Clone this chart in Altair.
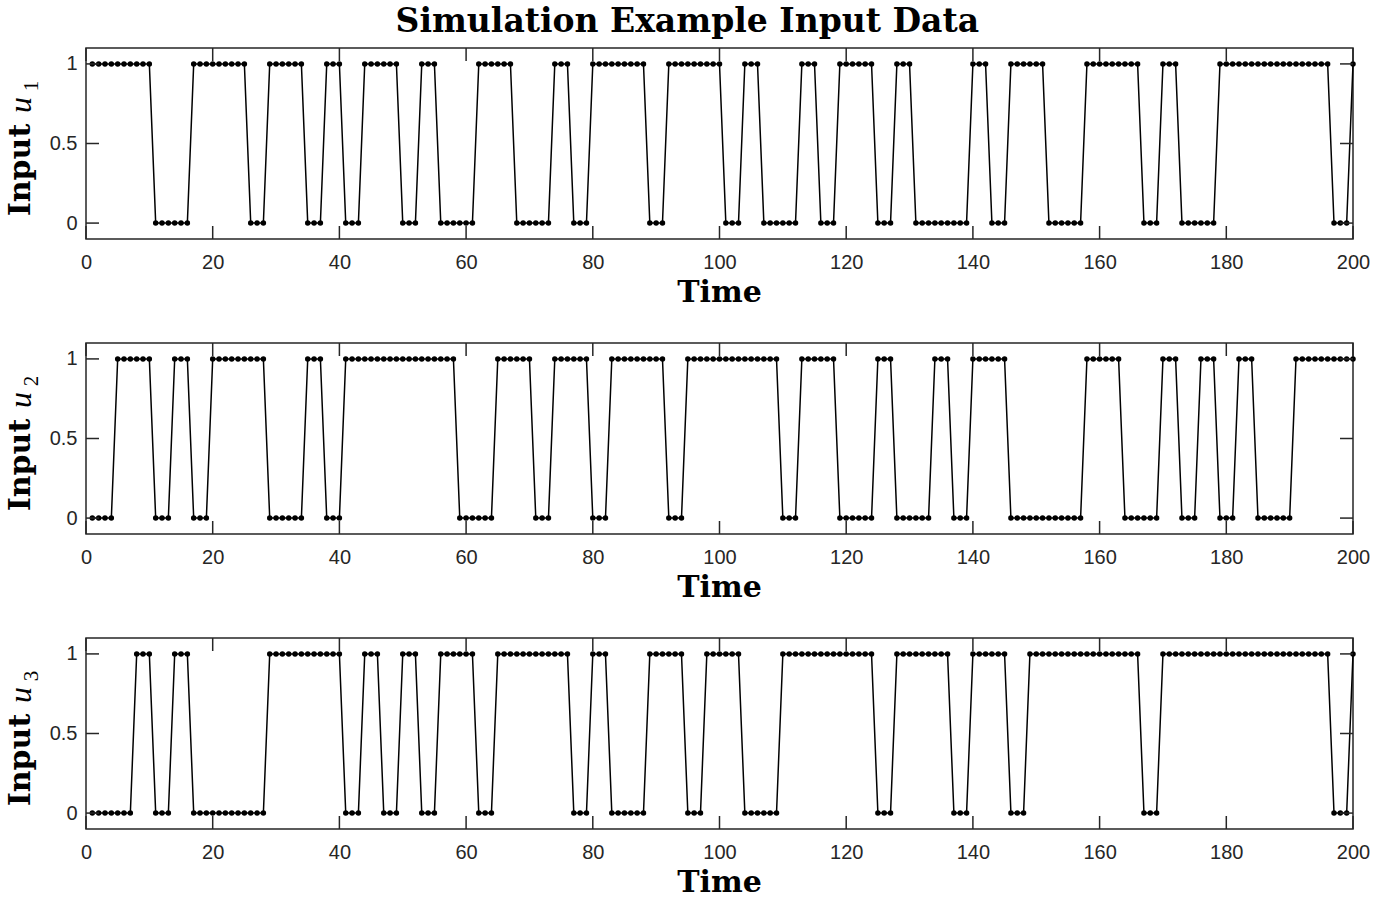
import altair as alt
import pandas as pd

# time steps 1..200
t = list(range(1, 201))

u1 = [1,1,1,1,1,1,1,1,1,1, 0,0,0,0,0,0,1,1,1,1,
      1,1,1,1,1,0,0,0,1,1, 1,1,1,1,0,0,0,1,1,1,
      0,0,0,1,1,1,1,1,1,0, 0,0,1,1,1,0,0,0,0,0,
      0,1,1,1,1,1,1,0,0,0, 0,0,0,1,1,1,0,0,0,1,
      1,1,1,1,1,1,1,1,0,0, 0,1,1,1,1,1,1,1,1,1,
      0,0,0,1,1,1,0,0,0,0, 0,0,1,1,1,0,0,0,1,1,
      1,1,1,1,0,0,0,1,1,1, 0,0,0,0,0,0,0,0,0,1,
      1,1,0,0,0,1,1,1,1,1, 1,0,0,0,0,0,0,1,1,1,
      1,1,1,1,1,1,0,0,0,1, 1,1,0,0,0,0,0,0,1,1,
      1,1,1,1,1,1,1,1,1,1, 1,1,1,1,1,1,0,0,0,1]

u2 = [0,0,0,0,1,1,1,1,1,1, 0,0,0,1,1,1,0,0,0,1,
      1,1,1,1,1,1,1,1,0,0, 0,0,0,0,1,1,1,0,0,0,
      1,1,1,1,1,1,1,1,1,1, 1,1,1,1,1,1,1,1,0,0,
      0,0,0,0,1,1,1,1,1,1, 0,0,0,1,1,1,1,1,1,0,
      0,0,1,1,1,1,1,1,1,1, 1,0,0,0,1,1,1,1,1,1,
      1,1,1,1,1,1,1,1,1,0, 0,0,1,1,1,1,1,1,0,0,
      0,0,0,0,1,1,1,0,0,0, 0,0,0,1,1,1,0,0,0,1,
      1,1,1,1,1,0,0,0,0,0, 0,0,0,0,0,0,0,1,1,1,
      1,1,1,0,0,0,0,0,0,1, 1,1,0,0,0,1,1,1,0,0,
      0,1,1,1,0,0,0,0,0,0, 1,1,1,1,1,1,1,1,1,1]

u3 = [0,0,0,0,0,0,0,1,1,1, 0,0,0,1,1,1,0,0,0,0,
      0,0,0,0,0,0,0,0,1,1, 1,1,1,1,1,1,1,1,1,1,
      0,0,0,1,1,1,0,0,0,1, 1,1,0,0,0,1,1,1,1,1,
      1,0,0,0,1,1,1,1,1,1, 1,1,1,1,1,1,0,0,0,1,
      1,1,0,0,0,0,0,0,1,1, 1,1,1,1,0,0,0,1,1,1,
      1,1,1,0,0,0,0,0,0,1, 1,1,1,1,1,1,1,1,1,1,
      1,1,1,1,0,0,0,1,1,1, 1,1,1,1,1,1,0,0,0,1,
      1,1,1,1,1,0,0,0,1,1, 1,1,1,1,1,1,1,1,1,1,
      1,1,1,1,1,1,0,0,0,1, 1,1,1,1,1,1,1,1,1,1,
      1,1,1,1,1,1,1,1,1,1, 1,1,1,1,1,1,0,0,0,1]

x_ticks = [0, 20, 40, 60, 80, 100, 120, 140, 160, 180, 200]
y_ticks = [0, 0.5, 1]
series = [("u1", "1"), ("u2", "2"), ("u3", "3")]

df = pd.DataFrame({"t": t, "u1": u1, "u2": u2, "u3": u3})
xt_df = pd.DataFrame({"xt": x_ticks})
yt_df = pd.DataFrame({"yt": y_ticks})

W, H = 1267, 191
AX = "#262626"
SERIF = "DejaVu Serif"
SANS = "Liberation Sans"

xscale = alt.Scale(domain=[0, 200], nice=False, zero=False)
yscale = alt.Scale(domain=[-0.1, 1.1], nice=False, zero=False)


def panel(col, sub):
    xenc = alt.X("t:Q", scale=xscale,
                 axis=alt.Axis(values=x_ticks, title=None, grid=False, ticks=False,
                               tickSize=0, domain=False, labelFont=SANS, labelFontSize=20,
                               labelColor=AX, labelPadding=13, labelFlush=False))
    yenc = alt.Y(f"{col}:Q", scale=yscale,
                 axis=alt.Axis(values=y_ticks, title=None, grid=False, ticks=False,
                               tickSize=0, domain=False, labelFont=SANS, labelFontSize=20,
                               labelColor=AX, labelPadding=9, labelExpr="datum.value"))
    base = alt.Chart(df)
    line = base.mark_line(color="black", strokeWidth=1.5).encode(x=xenc, y=yenc)
    pts = base.mark_circle(color="black", opacity=1, size=30).encode(x="t:Q", y=f"{col}:Q")

    xt_bot = alt.Chart(xt_df).mark_rule(color=AX, strokeWidth=1.5).encode(
        x=alt.X("xt:Q", scale=xscale), y=alt.value(H), y2=alt.value(H - 13))
    xt_top = alt.Chart(xt_df).mark_rule(color=AX, strokeWidth=1.5).encode(
        x=alt.X("xt:Q", scale=xscale), y=alt.value(0), y2=alt.value(13))
    yt_l = alt.Chart(yt_df).mark_rule(color=AX, strokeWidth=1.5).encode(
        y=alt.Y("yt:Q", scale=yscale), x=alt.value(0), x2=alt.value(13))
    yt_r = alt.Chart(yt_df).mark_rule(color=AX, strokeWidth=1.5).encode(
        y=alt.Y("yt:Q", scale=yscale), x=alt.value(W - 13), x2=alt.value(W))

    lab = pd.DataFrame({"s": ["x"]})
    time_txt = alt.Chart(lab).mark_text(text="Time", font=SERIF, fontWeight="bold",
                                        fontSize=30, color="black", align="center",
                                        baseline="alphabetic").encode(
        x=alt.value(W / 2), y=alt.value(H + 63))
    input_txt = alt.Chart(lab).mark_text(text="Input", font=SERIF, fontWeight="bold",
                                         fontSize=30, color="black", angle=270,
                                         align="center", baseline="alphabetic").encode(
        x=alt.value(-56), y=alt.value(122))
    u_txt = alt.Chart(lab).mark_text(text="u", font="Liberation Serif", fontStyle="italic",
                                     fontSize=32, color="black", angle=270,
                                     align="center", baseline="alphabetic").encode(
        x=alt.value(-55), y=alt.value(57))
    sub_txt = alt.Chart(lab).mark_text(text=sub, font="Liberation Serif",
                                       fontSize=21, color="black", angle=270,
                                       align="center", baseline="alphabetic").encode(
        x=alt.value(-48), y=alt.value(38))

    return alt.layer(line, pts, xt_bot, xt_top, yt_l, yt_r, time_txt, input_txt,
                     u_txt, sub_txt).properties(width=W, height=H)


chart = alt.vconcat(*[panel(c, s) for c, s in series], spacing=104, bounds="flush").properties(
    title=alt.TitleParams("Simulation Example Input Data", font=SERIF, fontWeight="bold",
                          fontSize=33, color="black", anchor="middle", offset=8),
    padding={"left": 4, "top": 5, "right": 5, "bottom": 5},
    background="white",
).configure_view(stroke=AX, strokeWidth=1.5)

chart.save("out.html", embed_options={"renderer": "svg", "actions": False})
